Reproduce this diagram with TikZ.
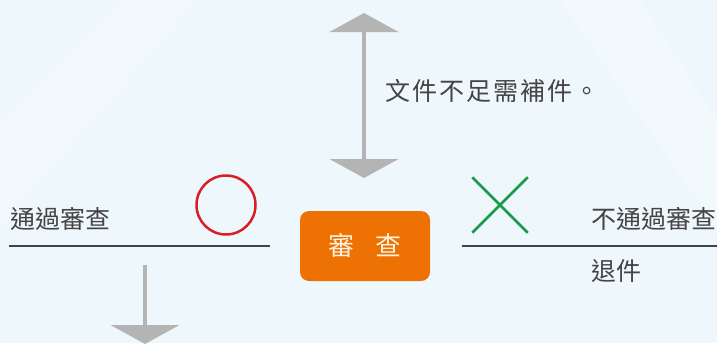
\documentclass[tikz,border=0pt]{standalone}
\usepackage{fontspec}
\newfontfamily\cjk{Noto Sans CJK TC}
\newfontfamily\cjkwide[LetterSpace=8]{Noto Sans CJK TC}
\usetikzlibrary{arrows.meta,shapes.misc}
\definecolor{bg}{HTML}{EEF7FB}
\definecolor{arrgray}{HTML}{B4B4B4}
\definecolor{txt}{HTML}{444444}
\definecolor{orangebox}{HTML}{EE7203}
\definecolor{boxtext}{HTML}{FFF1E0}
\definecolor{okred}{HTML}{D81F26}
\definecolor{ngreen}{HTML}{1A9A4A}
\tikzset{
  grayarrow/.style={draw=arrgray,line width=4pt},
  bigtip/.tip={Triangle[width=69pt,length=19pt,color=arrgray,fill=arrgray,line width=0pt]},
  label/.style={text=txt,font=\cjk\fontsize{25}{28}\selectfont,inner sep=0pt},
  widelabel/.style={text=txt,font=\cjkwide\fontsize{25}{28}\selectfont,inner sep=0pt},
  rule/.style={draw=txt,line width=2.5pt},
}
\begin{document}
\begin{tikzpicture}[x=1pt,y=-1pt]
\useasboundingbox (0,0) rectangle (717,343);
\fill[bg] (0,0) rectangle (717,343);
\fill[white,opacity=0.25] (560,0) -- (640,0) -- (717,120) -- (717,230) -- cycle;
\fill[white,opacity=0.2] (0,120) -- (120,0) -- (200,0) -- (0,230) -- cycle;
% top double arrow
\coordinate (vt) at (364,13);
\coordinate (vb) at (364,178);
\draw[grayarrow,{bigtip}-{bigtip}] (vt) -- (vb);
\node[widelabel,anchor=west] (need) at (385,91) {文件不足需補件。};
% center box
\node[fill=orangebox,rounded corners=9pt,minimum width=130pt,minimum height=70pt,text=boxtext,font=\cjk\fontsize{26}{28}\selectfont] (review) at (365,246) {審\hspace{21pt}查};
% left side
\node[label,anchor=west] (pass) at (10,219) {通過審查};
\coordinate (l1) at (9,246);
\coordinate (l2) at (270,246);
\draw[rule] (l1) -- (l2);
\node[draw=okred,line width=2.5pt,circle,minimum size=59pt,inner sep=0pt] (ok) at (226,205) {};
\coordinate (d1) at (145,265);
\coordinate (d2) at (145,344);
\draw[grayarrow,-{bigtip}] (d1) -- (d2);
% right side
\node[draw=ngreen,line width=2.5pt,cross out,minimum width=53pt,minimum height=53pt,inner sep=0pt] (ng) at (500,205) {};
\coordinate (r1) at (462,246);
\coordinate (r2) at (717,246);
\draw[rule] (r1) -- (r2);
\node[label,anchor=west] (fail) at (591,219) {不通過審查};
\node[label,anchor=west] (ret) at (591,271) {退件};
\end{tikzpicture}
\end{document}
